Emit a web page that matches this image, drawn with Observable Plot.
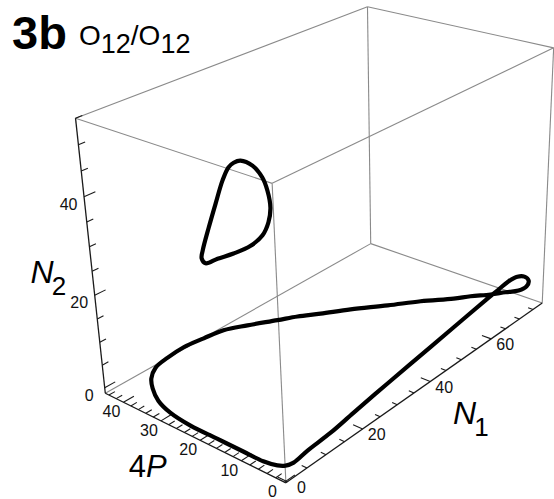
<!DOCTYPE html>
<html><head><meta charset="utf-8">
<script src="https://cdn.jsdelivr.net/npm/d3@7"></script>
<script src="https://cdn.jsdelivr.net/npm/@observablehq/plot@0.6"></script>
<style>
html,body{margin:0;padding:0;background:#fff}
#wrap{position:relative;width:554px;height:499px;overflow:hidden}
.ttl{position:absolute;white-space:nowrap;font-family:"Liberation Sans",Arial,sans-serif;color:#000}
#t1{left:12px;top:9px;font-weight:bold;font-size:47px;line-height:47px}
#t2{left:79px;top:22px;font-size:28px;line-height:28px}
#t2 .s{font-size:27px;position:relative;top:8px}
</style></head>
<body><div id="wrap">
<div class="ttl" id="t1">3b</div>
<div class="ttl" id="t2">O<span class="s">12</span>/O<span class="s">12</span></div>
</div>
<script>
// ---- trajectories (N1, 4P, N2) ----
// large cycle near the N1–P floor
const lowerN1=[1.3,2.7,6.3,12.4,18.7,28.4,38.6,49.6,62.2,66.2,70.1,73.2,74.7,74.3,73.6,70.7,67.3,64.3,61.0,58.5,53.8,48.8,43.4,38.9,35.8,32.2,27.5,23.5,19.2,14.7,10.5,6.8,4.0,2.4,0.9,0.6,0.6,0.6,0.6,0.6,0.8];
const lower4P=[1.2,0.6,0.6,0.6,0.6,0.6,0.9,1.4,2.3,2.4,2.7,2.6,1.9,0.6,0.6,0.6,1.5,3.0,5.5,7.8,12.4,16.7,21.7,25.6,28.9,30.9,34.5,37.1,38.2,39.1,39.1,38.5,36.7,34.7,31.7,28.4,23.3,16.7,10.4,5.7,2.6];
const lowerN2=[0.7,0.8,1.3,1.7,2.6,3.9,4.8,5.6,6.1,6.4,6.5,6.3,5.9,5.6,4.5,4.8,5.6,5.9,6.1,5.9,5.8,5.6,5.4,5.1,4.7,4.8,4.5,4.3,4.1,3.9,3.6,3.4,3.1,2.5,1.8,0.7,0.0,0.0,0.0,0.0,0.4];
// small cycle with N2 high
const upperN1=[10,10,10,10,10,10,10,10,10,10,10,10,10,10,10,10,10,10];
const upper4P=[16.5,13.8,11.7,10.7,10.2,10.8,12.3,15.2,19.4,23.4,26.5,27.4,27.0,25.1,23.0,21.0,19.4,18.1];
const upperN2=[50.8,50.6,49.0,46.9,43.9,41.0,38.1,35.2,32.4,30.1,28.2,28.9,30.6,35.7,41.0,45.9,48.8,50.0];

// ---- axes ----
const N1Ticks=[0,20,40,60];
const P4Ticks=[0,10,20,30,40];
const N2Ticks=[0,20,40];
const N1Minor=5, P4Minor=2, N2Minor=5;

// ---- plot box and view ----
const box={N1:[-0.37,78.42],P4:[-0.3,45.0],N2:[-1.24,55.0]};
const boxScale=[1/75,0.01327,0.01299];
const view={azimuth:3.85487,elevation:0.44288,distance:3.5561,roll:-0.02681,zoom:400.554,cx:330.54,cy:218.87};

const W=554,H=499;
const mid=[box.N1,box.P4,box.N2].map(([a,b])=>(a+b)/2);
const dot=(a,b)=>a[0]*b[0]+a[1]*b[1]+a[2]*b[2];
const camDir=[Math.cos(view.elevation)*Math.cos(view.azimuth),Math.cos(view.elevation)*Math.sin(view.azimuth),Math.sin(view.elevation)];
const eye=camDir.map(v=>v*view.distance);
const fwd=camDir.map(v=>-v);
let right=[fwd[1],-fwd[0],0];{const n=Math.hypot(right[0],right[1]);right=right.map(v=>v/n);}
let upv=[right[1]*fwd[2]-right[2]*fwd[1],right[2]*fwd[0]-right[0]*fwd[2],right[0]*fwd[1]-right[1]*fwd[0]];
{const c=Math.cos(view.roll),s=Math.sin(view.roll);const r=right,u=upv;right=r.map((v,i)=>v*c+u[i]*s);upv=r.map((v,i)=>-v*s+u[i]*c);}
// perspective projection onto the image plane (u right, v up)
function project(n1,p4,n2){
  const q=[n1,p4,n2].map((v,i)=>(v-mid[i])*boxScale[i]-eye[i]);
  const z=dot(q,fwd);
  return [dot(q,right)/z,dot(q,upv)/z];
}
const S=view.zoom*view.distance;

// box edges
const lo=[box.N1[0],box.P4[0],box.N2[0]],hi=[box.N1[1],box.P4[1],box.N2[1]];
const corner=(a,b,c)=>[a?hi[0]:lo[0],b?hi[1]:lo[1],c?hi[2]:lo[2]];
const edgeList=[];
for(const a of [0,1])for(const b of [0,1])for(const c of [0,1]){
  if(!a)edgeList.push([corner(0,b,c),corner(1,b,c)]);
  if(!b)edgeList.push([corner(a,0,c),corner(a,1,c)]);
  if(!c)edgeList.push([corner(a,b,0),corner(a,b,1)]);
}
// the three labelled edges
const isAxis=([p,q])=>{
  const same=(i,v)=>p[i]===v&&q[i]===v;
  return (same(1,lo[1])&&same(2,lo[2]))||(same(0,lo[0])&&same(2,lo[2]))||(same(0,lo[0])&&same(1,hi[1]));
};
const edges=edgeList.map(([p,q])=>({a:project(...p),b:project(...q),axis:isAxis([p,q])}));

// tick marks
const tickSegs=[];
const isMajor=(v,list)=>list.includes(v);
for(const v of d3.range(0,hi[0],N1Minor)){const L=isMajor(v,N1Ticks)?2.2:1.2;tickSegs.push({a:project(v,lo[1],lo[2]),b:project(v,lo[1]+L,lo[2])});}
for(const v of d3.range(0,hi[1],P4Minor)){const L=isMajor(v,P4Ticks)?2.6:1.5;tickSegs.push({a:project(lo[0],v,lo[2]),b:project(lo[0]+L,v,lo[2])});}
for(const v of d3.range(0,hi[2]+0.01,N2Minor)){const L=isMajor(v,N2Ticks)?2.6:1.5;tickSegs.push({a:project(lo[0],hi[1],v),b:project(lo[0]+L,hi[1],v)});}

const n1Labels=N1Ticks.map(v=>({p:project(v,lo[1],lo[2]),t:String(v)}));
const p4Labels=P4Ticks.map(v=>({p:project(lo[0],v,lo[2]),t:String(v)}));
const n2Labels=N2Ticks.map(v=>({p:project(lo[0],hi[1],v),t:String(v)}));

const lower=lowerN1.map((v,i)=>project(v,lower4P[i],lowerN2[i]));
const upper=upperN1.map((v,i)=>project(v,upper4P[i],upperN2[i]));

// axis titles, anchored on their axes
const n1Title=[{p:project(50,lo[1],lo[2])}];
const p4Title=[{p:project(lo[0],30,lo[2])}];
const n2Title=[{p:project(lo[0],hi[1],25)}];

const font='"Liberation Sans", Arial, sans-serif';
const tickText=(data,dx,dy)=>Plot.text(data,{x:d=>d.p[0],y:d=>d.p[1],text:"t",dx,dy,fontSize:16,fill:"#111"});
const chart=Plot.plot({
  width:W,height:H,margin:0,
  x:{axis:null,domain:[-view.cx/S,(W-view.cx)/S],range:[0,W]},
  y:{axis:null,domain:[(view.cy-H)/S,view.cy/S],range:[H,0]},
  style:{fontFamily:font,background:"transparent",overflow:"visible"},
  marks:[
    Plot.link(edges.filter(d=>!d.axis),{x1:d=>d.a[0],y1:d=>d.a[1],x2:d=>d.b[0],y2:d=>d.b[1],stroke:"#8a8a8a",strokeWidth:1.1}),
    Plot.link(edges.filter(d=>d.axis),{x1:d=>d.a[0],y1:d=>d.a[1],x2:d=>d.b[0],y2:d=>d.b[1],stroke:"#1a1a1a",strokeWidth:1.3}),
    Plot.link(tickSegs,{x1:d=>d.a[0],y1:d=>d.a[1],x2:d=>d.b[0],y2:d=>d.b[1],stroke:"#1a1a1a",strokeWidth:1.1}),
    tickText(n1Labels,14,6),
    tickText(p4Labels,-12,10),
    tickText(n2Labels,-15.5,8),
    Plot.line(lower,{x:d=>d[0],y:d=>d[1],curve:"catmull-rom-closed",stroke:"#000",strokeWidth:4.2,strokeLinejoin:"round"}),
    Plot.line(upper,{x:d=>d[0],y:d=>d[1],curve:"catmull-rom-closed",stroke:"#000",strokeWidth:4.2,strokeLinejoin:"round"}),
    // N1
    Plot.text(n1Title,{x:d=>d.p[0],y:d=>d.p[1],text:()=>"N",dx:3,dy:54,fontSize:32,fontStyle:"italic"}),
    Plot.text(n1Title,{x:d=>d.p[0],y:d=>d.p[1],text:()=>"1",dx:20,dy:68,fontSize:26}),
    // 4P
    Plot.text(p4Title,{x:d=>d.p[0],y:d=>d.p[1],text:()=>"4",dx:-15,dy:46,fontSize:31,textAnchor:"end"}),
    Plot.text(p4Title,{x:d=>d.p[0],y:d=>d.p[1],text:()=>"P",dx:-15,dy:46,fontSize:31,fontStyle:"italic",textAnchor:"start"}),
    // N2
    Plot.text(n2Title,{x:d=>d.p[0],y:d=>d.p[1],text:()=>"N",dx:-50,dy:2,fontSize:32,fontStyle:"italic"}),
    Plot.text(n2Title,{x:d=>d.p[0],y:d=>d.p[1],text:()=>"2",dx:-33,dy:15,fontSize:26})
  ]
});
chart.style.position="absolute";chart.style.left="0";chart.style.top="0";
document.getElementById("wrap").prepend(chart);
</script></body></html>
